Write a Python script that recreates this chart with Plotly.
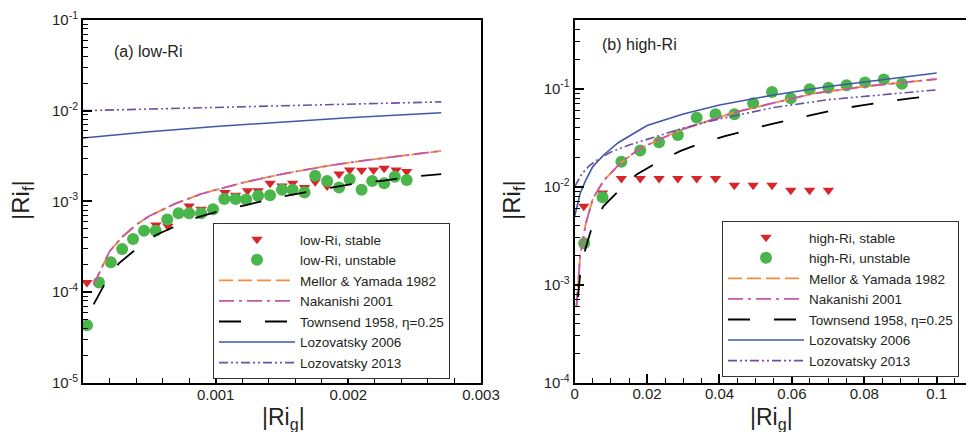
import plotly.graph_objects as go

# ---------------- data: panel (a) low-Ri ----------------
low_stable_x = [0.00003, 0.00055, 0.00064, 0.00080, 0.00089, 0.00107, 0.00115, 0.00124, 0.00132, 0.00141,
                0.00150, 0.00158, 0.00167, 0.00175, 0.00184, 0.00193, 0.00201, 0.00210, 0.00219, 0.00227,
                0.00236, 0.00244]
low_stable_y = [1.27e-4, 5.5e-4, 5.3e-4, 8.9e-4, 8.2e-4, 1.25e-3, 1.17e-3, 1.31e-3, 1.31e-3, 1.58e-3,
                1.48e-3, 1.58e-3, 1.42e-3, 1.65e-3, 1.48e-3, 2.0e-3, 2.22e-3, 2.2e-3, 2.22e-3, 2.32e-3,
                2.22e-3, 2.13e-3]

low_unstable_x = [0.00003, 0.00012, 0.00021, 0.000295, 0.000377, 0.00046, 0.000548, 0.000635, 0.00072, 0.0008,
                  0.00089, 0.00098, 0.001065, 0.00115, 0.00123, 0.00132, 0.00141, 0.0015, 0.00158, 0.00167,
                  0.00175, 0.00184, 0.00193, 0.00201, 0.0021, 0.00218, 0.00227, 0.00235, 0.00244]
low_unstable_y = [4.3e-5, 1.27e-4, 2.13e-4, 2.99e-4, 3.85e-4, 4.75e-4, 4.75e-4, 6.3e-4, 7.4e-4, 7.4e-4,
                  7.4e-4, 8.2e-4, 1.06e-3, 1.06e-3, 1.05e-3, 1.15e-3, 1.17e-3, 1.34e-3, 1.34e-3, 1.25e-3,
                  1.92e-3, 1.68e-3, 1.42e-3, 1.75e-3, 1.34e-3, 1.68e-3, 1.58e-3, 1.87e-3, 1.72e-3]

low_my_x = [0.00008, 0.0002, 0.0003, 0.0004, 0.0005, 0.0007, 0.0009, 0.0012, 0.0015, 0.0018, 0.0021, 0.0024, 0.0027]
low_my_y = [1.2e-4, 2.8e-4, 4.1e-4, 5.5e-4, 6.9e-4, 9.5e-4, 1.22e-3, 1.6e-3, 2.0e-3, 2.4e-3, 2.8e-3, 3.2e-3, 3.6e-3]

low_nak_x = [0.00008, 0.0002, 0.0003, 0.0004, 0.0005, 0.0007, 0.0009, 0.0012, 0.0015, 0.0018, 0.0021, 0.0024, 0.0027]
low_nak_y = [1.2e-4, 2.8e-4, 4.1e-4, 5.5e-4, 6.9e-4, 9.5e-4, 1.22e-3, 1.6e-3, 2.0e-3, 2.4e-3, 2.8e-3, 3.2e-3, 3.6e-3]

low_town_x = [0.00008, 0.00017, 0.00027, 0.0004, 0.00055, 0.00072, 0.00088, 0.00104, 0.00123, 0.00139,
              0.00157, 0.00174, 0.00192, 0.00208, 0.00227, 0.00243, 0.0027]
low_town_y = [7.3e-5, 1.28e-4, 2.07e-4, 2.97e-4, 4.26e-4, 5.5e-4, 6.8e-4, 7.9e-4, 9.1e-4, 1.04e-3,
              1.18e-3, 1.3e-3, 1.45e-3, 1.6e-3, 1.69e-3, 1.84e-3, 2.0e-3]

low_loz06_x = [0.0, 0.0005, 0.001, 0.0015, 0.002, 0.0027]
low_loz06_y = [5.0e-3, 5.85e-3, 6.7e-3, 7.5e-3, 8.35e-3, 9.5e-3]

low_loz13_x = [0.0, 0.0005, 0.001, 0.0015, 0.002, 0.0027]
low_loz13_y = [1.0e-2, 1.045e-2, 1.09e-2, 1.14e-2, 1.19e-2, 1.25e-2]

# ---------------- data: panel (b) high-Ri ----------------
high_stable_x = [0.0025, 0.0077, 0.0129, 0.0181, 0.0233, 0.0285, 0.0337, 0.0389, 0.0441, 0.0493, 0.0545,
                 0.0597, 0.0649, 0.0701]
high_stable_y = [6.3e-3, 8.6e-3, 0.0121, 0.0121, 0.0121, 0.0121, 0.0121, 0.0121, 0.0103, 0.0103, 0.0103,
                 9.2e-3, 9.2e-3, 9.2e-3]

high_unstable_x = [0.0026, 0.0077, 0.0129, 0.0181, 0.0233, 0.0285, 0.0337, 0.0389, 0.0441, 0.0493, 0.0545,
                   0.0597, 0.0649, 0.0701, 0.0751, 0.0802, 0.0854, 0.0904]
high_unstable_y = [2.65e-3, 7.8e-3, 0.0179, 0.0233, 0.0284, 0.0335, 0.0505, 0.0546, 0.0546, 0.0708, 0.0923,
                   0.0796, 0.0984, 0.102, 0.108, 0.115, 0.124, 0.112]

high_my_x = [0.0005, 0.0015, 0.003, 0.005, 0.008, 0.0128, 0.018, 0.029, 0.044, 0.066, 0.08, 0.1]
high_my_y = [6.0e-4, 1.95e-3, 4.1e-3, 7.5e-3, 1.15e-2, 0.0176, 0.0245, 0.0375, 0.057, 0.089, 0.105, 0.125]

high_nak_x = [0.0005, 0.0015, 0.003, 0.005, 0.008, 0.0128, 0.018, 0.029, 0.044, 0.066, 0.08, 0.1]
high_nak_y = [6.0e-4, 1.95e-3, 4.1e-3, 7.5e-3, 1.15e-2, 0.0176, 0.0245, 0.0375, 0.057, 0.089, 0.105, 0.125]

high_town_x = [0.0009, 0.0015, 0.003, 0.0047, 0.0079, 0.0125, 0.0171, 0.0227, 0.0291, 0.0346, 0.0415,
               0.0475, 0.054, 0.06, 0.0664, 0.0728, 0.0793, 0.0853, 0.0922, 0.0986]
high_town_y = [7.5e-4, 1.25e-3, 2.35e-3, 3.78e-3, 6.3e-3, 9.3e-3, 1.33e-2, 1.75e-2, 2.3e-2, 2.75e-2, 3.27e-2,
               3.77e-2, 4.32e-2, 4.86e-2, 5.46e-2, 6.14e-2, 6.75e-2, 7.29e-2, 7.9e-2, 8.4e-2]

high_loz06_x = [0.0, 0.0015, 0.003, 0.005, 0.008, 0.012, 0.02, 0.03, 0.04, 0.055, 0.07, 0.085, 0.1]
high_loz06_y = [5.0e-3, 8.5e-3, 1.15e-2, 1.6e-2, 2.1e-2, 2.8e-2, 4.2e-2, 5.5e-2, 6.8e-2, 8.6e-2, 0.105, 0.124, 0.144]

high_loz13_x = [0.0, 0.002, 0.004, 0.006, 0.01, 0.015, 0.02, 0.03, 0.04, 0.055, 0.07, 0.085, 0.1]
high_loz13_y = [0.01, 0.0135, 0.0163, 0.0185, 0.0225, 0.0265, 0.0303, 0.0395, 0.049, 0.064, 0.077, 0.087, 0.097]

# ---------------- tick labels ----------------
low_xtick_vals = [0.001, 0.002, 0.003]
low_xtick_text = ["0.001", "0.002", "0.003"]
low_ytick_vals = [1e-5, 1e-4, 1e-3, 1e-2, 1e-1]
low_ytick_text = ["10<sup>-5</sup>", "10<sup>-4</sup>", "10<sup>-3</sup>", "10<sup>-2</sup>", "10<sup>-1</sup>"]
high_xtick_vals = [0, 0.02, 0.04, 0.06, 0.08, 0.1]
high_xtick_text = ["0", "0.02", "0.04", "0.06", "0.08", "0.1"]
high_ytick_vals = [1e-4, 1e-3, 1e-2, 1e-1]
high_ytick_text = ["10<sup>-4</sup>", "10<sup>-3</sup>", "10<sup>-2</sup>", "10<sup>-1</sup>"]

# ---------------- styling ----------------
W, H = 966, 432
FONT = "Liberation Sans, Arial, sans-serif"
TXT = "#231f20"
C_RED = "#d7262b"
C_GREEN = "#4ab54b"
C_ORANGE = "#f58b3b"
C_PINK = "#c557a9"
C_BLACK = "#000000"
C_BLUE = "#4158a8"
C_PURPLE = "#6b50a3"

DASH_MY = "14px,5px"
DASH_NAK = "15px,5px,3px,5px"
DASH_TOWN = "22px,24px"
DASH_L13 = "9px,3px,2px,3px,2px,3px"
LEG_FONT = 13.5


def px_x(p):
    return p / W


def px_y(p):
    return 1 - p / H


def log_minor(lo, hi):
    vals = []
    for e in range(lo, hi + 1):
        for m in range(2, 10):
            vals.append(m * 10.0 ** e)
    return vals


fig = go.Figure()

panels = [
    ("x", "y", "legend", "low-Ri",
     low_stable_x, low_stable_y, low_unstable_x, low_unstable_y,
     low_my_x, low_my_y, low_nak_x, low_nak_y, low_town_x, low_town_y,
     low_loz06_x, low_loz06_y, low_loz13_x, low_loz13_y),
    ("x2", "y2", "legend2", "high-Ri",
     high_stable_x, high_stable_y, high_unstable_x, high_unstable_y,
     high_my_x, high_my_y, high_nak_x, high_nak_y, high_town_x, high_town_y,
     high_loz06_x, high_loz06_y, high_loz13_x, high_loz13_y),
]

for (xa, ya, lg, tag, sx, sy, ux, uy, mx, my, nx, ny, tx, ty, l6x, l6y, l3x, l3y) in panels:
    fig.add_trace(go.Scatter(x=sx, y=sy, mode="markers", name=f"{tag}, stable",
                             marker=dict(symbol="triangle-down", size=10, color=C_RED, line=dict(width=0)),
                             xaxis=xa, yaxis=ya, legend=lg))
    fig.add_trace(go.Scatter(x=ux, y=uy, mode="markers", name=f"{tag}, unstable",
                             marker=dict(symbol="circle", size=12, color=C_GREEN, line=dict(width=0)),
                             xaxis=xa, yaxis=ya, legend=lg))
    fig.add_trace(go.Scatter(x=mx, y=my, mode="lines", name="Mellor &amp; Yamada 1982",
                             line=dict(color=C_ORANGE, width=1.8, dash=DASH_MY),
                             xaxis=xa, yaxis=ya, legend=lg))
    fig.add_trace(go.Scatter(x=nx, y=ny, mode="lines", name="Nakanishi 2001",
                             line=dict(color=C_PINK, width=1.8, dash=DASH_NAK),
                             xaxis=xa, yaxis=ya, legend=lg))
    fig.add_trace(go.Scatter(x=tx, y=ty, mode="lines", name="Townsend 1958, η=0.25",
                             line=dict(color=C_BLACK, width=1.8, dash=DASH_TOWN),
                             xaxis=xa, yaxis=ya, legend=lg))
    fig.add_trace(go.Scatter(x=l6x, y=l6y, mode="lines", name="Lozovatsky 2006",
                             line=dict(color=C_BLUE, width=1.6),
                             xaxis=xa, yaxis=ya, legend=lg))
    fig.add_trace(go.Scatter(x=l3x, y=l3y, mode="lines", name="Lozovatsky 2013",
                             line=dict(color=C_PURPLE, width=1.6, dash=DASH_L13),
                             xaxis=xa, yaxis=ya, legend=lg))

ydom = [px_y(382.7), px_y(20)]
common_axis = dict(showgrid=False, zeroline=False, showline=True, linecolor="black", linewidth=2,
                   ticks="inside", ticklen=9, tickwidth=1.5, tickcolor="black", automargin=False,
                   tickfont=dict(family=FONT, size=15, color=TXT))

fig.update_layout(
    xaxis=dict(domain=[px_x(83), px_x(481)], range=[0, 0.003], tickmode="array",
               tickvals=low_xtick_vals, ticktext=low_xtick_text, mirror=True, ticklabelstandoff=-3,
               minor=dict(ticks="inside", ticklen=5, tickwidth=1, tickcolor="black", dtick=0.0002, tick0=0),
               anchor="y", **common_axis),
    yaxis=dict(domain=ydom, type="log", range=[-5, -1], tickmode="array",
               tickvals=low_ytick_vals, ticktext=low_ytick_text, mirror=True,
               minor=dict(ticks="inside", ticklen=5, tickwidth=1, tickcolor="black",
                          tickmode="array", tickvals=log_minor(-5, -2)),
               anchor="x", **common_axis),
    xaxis2=dict(domain=[px_x(574.7), 1.0], range=[0, 0.1081], tickmode="array",
                tickvals=high_xtick_vals, ticktext=high_xtick_text, mirror=True, ticklabelstandoff=-4,
                minor=dict(ticks="inside", ticklen=5, tickwidth=1, tickcolor="black", dtick=0.005, tick0=0),
                anchor="y2", **common_axis),
    yaxis2=dict(domain=ydom, type="log", range=[-4, -0.30103], tickmode="array",
                tickvals=high_ytick_vals, ticktext=high_ytick_text, mirror=False,
                minor=dict(ticks="inside", ticklen=5, tickwidth=1, tickcolor="black",
                           tickmode="array", tickvals=log_minor(-4, -1)),
                anchor="x2", **common_axis),
    width=W, height=H,
    margin=dict(l=0, r=0, t=0, b=0, autoexpand=False),
    paper_bgcolor="white", plot_bgcolor="white",
    font=dict(family=FONT, color=TXT),
    showlegend=True,
    legend=dict(x=px_x(213), y=px_y(223), xanchor="left", yanchor="top",
                bgcolor="white", bordercolor="#333333", borderwidth=1,
                font=dict(family=FONT, size=LEG_FONT, color=TXT), itemwidth=76, tracegroupgap=0),
    legend2=dict(x=px_x(959), y=px_y(221), xanchor="right", yanchor="top",
                 bgcolor="white", bordercolor="#333333", borderwidth=1,
                 font=dict(family=FONT, size=LEG_FONT, color=TXT), itemwidth=76, tracegroupgap=0),
)

annots = [
    dict(text="|Ri<sub>f</sub>|", x=px_x(22), y=px_y(200), textangle=-90, size=24),
    dict(text="|Ri<sub>g</sub>|", x=px_x(283), y=px_y(418), textangle=0, size=23),
    dict(text="|Ri<sub>f</sub>|", x=px_x(513), y=px_y(200), textangle=-90, size=24),
    dict(text="|Ri<sub>g</sub>|", x=px_x(771), y=px_y(418), textangle=0, size=23),
]
for a in annots:
    fig.add_annotation(text=a["text"], x=a["x"], y=a["y"], xref="paper", yref="paper",
                       xanchor="center", yanchor="middle", textangle=a["textangle"],
                       showarrow=False, font=dict(family=FONT, size=a["size"], color=TXT))

fig.add_annotation(text="(a) low-Ri", x=px_x(112), y=px_y(52), xref="paper", yref="paper",
                   xanchor="left", yanchor="middle", showarrow=False,
                   font=dict(family=FONT, size=16, color=TXT))
fig.add_annotation(text="(b) high-Ri", x=px_x(600), y=px_y(45), xref="paper", yref="paper",
                   xanchor="left", yanchor="middle", showarrow=False,
                   font=dict(family=FONT, size=16, color=TXT))

fig.write_html("out.html")
